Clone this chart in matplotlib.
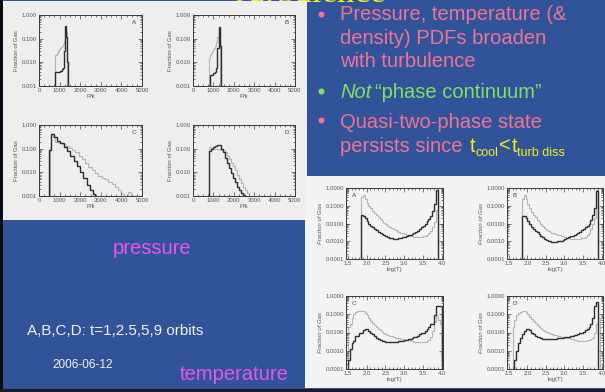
import numpy as np
import matplotlib
matplotlib.use("Agg")
import matplotlib.pyplot as plt
from matplotlib.patches import Rectangle
from matplotlib.ticker import MultipleLocator, LogLocator, NullFormatter

plt.rcParams['font.family'] = ['Liberation Sans', 'DejaVu Sans']

W, H = 605, 392

# ---------------- data: pressure PDFs (P/k) ----------------
p_ticks = [0, 1000, 2000, 3000, 4000, 5000]
p_tick_labels = ['0', '1000', '2000', '3000', '4000', '5000']
p_yticks = [1.0, 0.1, 0.01, 0.001]
p_ytick_labels = ['1.000', '0.100', '0.010', '0.001']

pA_dark_edges = [800, 900, 1000, 1100, 1150, 1200, 1250, 1300, 1350, 1400]
pA_dark = [0.004, 0.004, 0.0045, 0.005, 0.006, 0.03, 0.35, 0.12, 0.01]
pA_light_edges = [780, 850, 900, 950, 1000, 1050, 1100, 1150, 1200, 1250, 1300, 1350, 1380]
pA_light = [0.02, 0.025, 0.03, 0.035, 0.04, 0.045, 0.05, 0.06, 0.08, 0.15, 0.2, 0.03]

pB_dark_edges = [820, 900, 1000, 1100, 1150, 1200, 1250, 1300, 1350, 1380]
pB_dark = [0.003, 0.003, 0.0035, 0.004, 0.006, 0.04, 0.3, 0.05, 0.005]
pB_light_edges = [800, 850, 900, 950, 1000, 1050, 1100, 1150, 1200, 1250, 1300, 1340]
pB_light = [0.015, 0.02, 0.025, 0.03, 0.035, 0.04, 0.05, 0.07, 0.12, 0.25, 0.05]

pC_dark_edges = [480, 560, 640, 720, 880, 1040, 1200, 1360, 1520, 1680, 1840, 2000,
                 2160, 2320, 2480, 2640, 2720]
pC_dark = [0.09, 0.4, 0.4, 0.3, 0.22, 0.17, 0.12, 0.08, 0.05, 0.03, 0.018, 0.01,
           0.006, 0.003, 0.0018, 0.0012]
pC_light_edges = [540, 600, 700, 800, 960, 1120, 1280, 1440, 1600, 1760, 1920, 2080,
                  2240, 2400, 2560, 2720, 2880, 3040, 3200, 3360, 3520, 3680, 3840,
                  4000, 4120, 4300, 4450]
pC_light = [0.12, 0.4, 0.3, 0.2, 0.17, 0.15, 0.13, 0.11, 0.09, 0.07, 0.05, 0.035,
            0.025, 0.017, 0.012, 0.009, 0.007, 0.006, 0.005, 0.004, 0.0033, 0.0025,
            0.0018, 0.0012, 0.0, 0.0015]

pD_dark_edges = [780, 900, 1000, 1100, 1200, 1350, 1450, 1550, 1650, 1750, 1850, 1950,
                 2050, 2150, 2250, 2350, 2450, 2550]
pD_dark = [0.08, 0.1, 0.12, 0.13, 0.14, 0.1, 0.07, 0.04, 0.025, 0.015, 0.009, 0.006,
           0.004, 0.0025, 0.0018, 0.0013, 0.0011]
pD_light_edges = [800, 900, 1000, 1200, 1300, 1450, 1550, 1650, 1750, 1850, 1950, 2050,
                  2150, 2250, 2350, 2450, 2550, 2650, 2750]
pD_light = [0.12, 0.11, 0.1, 0.095, 0.09, 0.085, 0.07, 0.05, 0.035, 0.025, 0.018, 0.012,
            0.008, 0.005, 0.0035, 0.0025, 0.0018, 0.0013]

# ---------------- data: temperature PDFs (log T) ----------------
t_ticks = [1.5, 2.0, 2.5, 3.0, 3.5, 4.0]
t_tick_labels = ['1.5', '2.0', '2.5', '3.0', '3.5', '4.0']
t_yticks = [1.0, 0.1, 0.01, 0.001, 0.0001]
t_ytick_labels = ['1.0000', '0.1000', '0.0100', '0.0010', '0.0001']

t_edges = [1.50, 1.55, 1.60, 1.65, 1.70, 1.75, 1.80, 1.85, 1.90, 1.95,
           2.00, 2.05, 2.10, 2.15, 2.20, 2.25, 2.30, 2.35, 2.40, 2.45,
           2.50, 2.55, 2.60, 2.65, 2.70, 2.75, 2.80, 2.85, 2.90, 2.95,
           3.00, 3.05, 3.10, 3.15, 3.20, 3.25, 3.30, 3.35, 3.40, 3.45,
           3.50, 3.55, 3.60, 3.65, 3.70, 3.75, 3.80, 3.85, 3.90, 3.95, 4.00]

tA_dark = [0, 0, 0, 0, 0, 0, 0, 0.03, 0.028, 0.02,
           0.014, 0.01, 0.0075, 0.006, 0.005, 0.0042, 0.0035, 0.003, 0.0026, 0.0023,
           0.002, 0.0018, 0.0016, 0.0015, 0.0014, 0.0014, 0.0014, 0.0015, 0.0016, 0.0017,
           0.0018, 0.002, 0.0022, 0.0024, 0.0027, 0.003, 0.0034, 0.004, 0.0048, 0.006,
           0.0075, 0.01, 0.013, 0.018, 0.028, 0.05, 0.12, 0.8, 0, 0]
tA_light = [0, 0, 0, 0, 0, 0, 0, 0.3, 0.4, 0.25,
            0.15, 0.1, 0.07, 0.05, 0.038, 0.03, 0.023, 0.018, 0.014, 0.011,
            0.009, 0.0075, 0.0065, 0.0055, 0.0048, 0.0042, 0.0037, 0.0033, 0.003, 0.0028,
            0.0025, 0.0023, 0.0021, 0.002, 0.0019, 0.0018, 0.0018, 0.0018, 0.0018, 0.0018,
            0.0019, 0.002, 0.0023, 0.0028, 0.0038, 0.006, 0.012, 0.06, 0, 0]

tB_dark = [0, 0, 0, 0, 0, 0, 0, 0.028, 0.028, 0.02,
           0.013, 0.009, 0.0065, 0.005, 0.004, 0.0032, 0.0026, 0.0021, 0.0017, 0.0014,
           0.0012, 0.0011, 0.001, 0.00095, 0.00095, 0.00095, 0.001, 0.00105, 0.0011, 0.0012,
           0.0013, 0.0015, 0.0017, 0.0019, 0.0021, 0.0023, 0.0026, 0.003, 0.0035, 0.0042,
           0.005, 0.006, 0.0075, 0.01, 0.015, 0.03, 0.07, 0.7, 0, 0]
tB_light = [0, 0, 0, 0, 0, 0, 0, 0.25, 0.4, 0.25,
            0.12, 0.07, 0.045, 0.03, 0.022, 0.016, 0.012, 0.009, 0.007, 0.0055,
            0.0045, 0.0038, 0.0033, 0.003, 0.0028, 0.0026, 0.0024, 0.0022, 0.002, 0.0019,
            0.0018, 0.0016, 0.0015, 0.0014, 0.0014, 0.0014, 0.0014, 0.0014, 0.0014, 0.0015,
            0.0016, 0.0018, 0.0022, 0.003, 0.005, 0.01, 0.02, 0.8, 0, 0]

tC_dark = [0.0003, 0.0012, 0.0025, 0.0035, 0.0063, 0.0063, 0.0096, 0.0096, 0.013, 0.016,
           0.016, 0.012, 0.0095, 0.0078, 0.0062, 0.0052, 0.0045, 0.004, 0.0036, 0.0033,
           0.0031, 0.003, 0.003, 0.003, 0.003, 0.0031, 0.0032, 0.0033, 0.0034, 0.0035,
           0.0037, 0.0039, 0.0042, 0.0045, 0.005, 0.0055, 0.006, 0.0068, 0.008, 0.0096,
           0.0096, 0.012, 0.016, 0.02, 0.03, 0.03, 0.09, 0.3, 0.3, 0.3]
tC_light = [0.02, 0.03, 0.06, 0.1, 0.13, 0.15, 0.16, 0.16, 0.15, 0.12,
            0.09, 0.065, 0.045, 0.033, 0.025, 0.02, 0.016, 0.013, 0.011, 0.0095,
            0.0085, 0.0075, 0.0068, 0.0062, 0.0057, 0.0053, 0.005, 0.0047, 0.0045, 0.0043,
            0.0041, 0.0039, 0.0037, 0.0035, 0.0033, 0.0031, 0.003, 0.003, 0.003, 0.003,
            0.003, 0.0032, 0.0035, 0.004, 0.006, 0.012, 0.04, 0.08, 0.05, 0.03]

tD_dark = [0, 0, 0, 0.0003, 0.001, 0.0025, 0.005, 0.008, 0.012, 0.015,
           0.016, 0.013, 0.01, 0.008, 0.0068, 0.006, 0.0054, 0.005, 0.0046, 0.0044,
           0.0043, 0.0042, 0.0042, 0.0043, 0.0044, 0.0045, 0.0047, 0.0049, 0.005, 0.0052,
           0.0055, 0.0058, 0.006, 0.0063, 0.0067, 0.007, 0.0075, 0.008, 0.009, 0.01,
           0.011, 0.013, 0.016, 0.02, 0.03, 0.06, 0.3, 0.45, 0, 0]
tD_light = [0, 0, 0.02, 0.05, 0.09, 0.12, 0.14, 0.15, 0.15, 0.13,
            0.1, 0.075, 0.055, 0.042, 0.033, 0.026, 0.021, 0.017, 0.014, 0.012,
            0.011, 0.0098, 0.009, 0.0083, 0.0077, 0.0072, 0.0068, 0.0064, 0.006, 0.0057,
            0.0054, 0.0051, 0.0048, 0.0045, 0.0042, 0.004, 0.0038, 0.0036, 0.0035, 0.0035,
            0.0035, 0.0036, 0.0038, 0.004, 0.0045, 0.005, 0.01, 0.03, 0.06, 0]

panel_letters = ['A', 'B', 'C', 'D']

# ---------------- colours ----------------
BLUE = '#31539a'
PINK = '#ef7592'
GREEN = '#80e066'
YELLOW = '#f2ee22'
MAGENTA = '#e757e6'
WHITE = '#f2f2f2'
IMG_P = '#eeeeee'
IMG_T = '#f3f3f3'
DARK = '#2e2e2e'
LIGHT = '#b4b4b4'

fig = plt.figure(figsize=(W / 100, H / 100), dpi=100, facecolor=BLUE)


def fbox(x0, y0, x1, y1):
    return [x0 / W, 1 - y1 / H, (x1 - x0) / W, (y1 - y0) / H]


def rect(x0, y0, x1, y1, color, z=-1):
    fig.add_artist(Rectangle((x0 / W, 1 - y1 / H), (x1 - x0) / W, (y1 - y0) / H,
                             transform=fig.transFigure, facecolor=color,
                             edgecolor='none', zorder=z))


# title peeking at the top (mostly cut off, as on the slide)
fig.text(386 / W, 1 - 2.5 / H, 'Turbulence', color=YELLOW, fontsize=25,
         family='Liberation Serif', ha='right', va='baseline', zorder=-2)

# slide pieces
rect(3, 1, 307, 220, IMG_P)
rect(305, 176, 605, 388, IMG_T)
rect(0, 0, 3, 392, '#0a0a14')
rect(0, 388.5, 605, 392, '#1c1c26')


def style(ax, bg, italic_ylabel=False):
    ax.set_facecolor(bg)
    for s in ax.spines.values():
        s.set_color('#3a3a3a')
        s.set_linewidth(0.7)
    ax.tick_params(which='both', direction='in', top=True, right=True,
                   labelsize=4.3, labelcolor='#555555', color='#444444',
                   width=0.5, pad=1.5)
    ax.tick_params(which='major', length=3)
    ax.tick_params(which='minor', length=1.5)
    ax.set_yscale('log')
    ax.yaxis.set_minor_locator(LogLocator(base=10, subs=np.arange(2, 10)))
    ax.yaxis.set_minor_formatter(NullFormatter())
    ax.set_ylabel('Fraction of Gas', fontsize=4.3, color='#555555', labelpad=2,
                  style='italic' if italic_ylabel else 'normal')


# pressure panels
p_boxes = [(39, 15, 142, 86), (193, 15, 295, 86), (39, 125, 142, 196), (193, 125, 295, 196)]
p_series = [(pA_light_edges, pA_light, pA_dark_edges, pA_dark),
            (pB_light_edges, pB_light, pB_dark_edges, pB_dark),
            (pC_light_edges, pC_light, pC_dark_edges, pC_dark),
            (pD_light_edges, pD_light, pD_dark_edges, pD_dark)]
for bx, (le, lv, de, dv), letter in zip(p_boxes, p_series, panel_letters):
    ax = fig.add_axes(fbox(*bx))
    style(ax, IMG_P)
    ax.stairs(lv, le, color=LIGHT, lw=0.8, baseline=0)
    ax.stairs(dv, de, color=DARK, lw=1.0, baseline=0)
    ax.set_xlim(0, 5000)
    ax.set_ylim(0.001, 1.0)
    ax.set_xticks(p_ticks)
    ax.set_xticklabels(p_tick_labels)
    ax.xaxis.set_minor_locator(MultipleLocator(250))
    ax.set_yticks(p_yticks)
    ax.set_yticklabels(p_ytick_labels)
    ax.set_xlabel('P/k', fontsize=4.3, color='#555555', labelpad=1)
    ax.text(0.94, 0.9, letter, transform=ax.transAxes, fontsize=4.5,
            color='#444444', ha='right', va='center')

# temperature panels
t_boxes = [(346, 188, 443, 259), (507, 188, 603, 259), (346, 296, 443, 369), (507, 296, 603, 369)]
t_series = [(tA_light, tA_dark), (tB_light, tB_dark), (tC_light, tC_dark), (tD_light, tD_dark)]
for bx, (lv, dv), letter in zip(t_boxes, t_series, panel_letters):
    ax = fig.add_axes(fbox(*bx))
    style(ax, IMG_T, italic_ylabel=True)
    ax.stairs(lv, t_edges, color=LIGHT, lw=0.8, baseline=0)
    ax.stairs(dv, t_edges, color=DARK, lw=1.0, baseline=0)
    ax.set_xlim(1.45, 4.04)
    ax.set_ylim(0.0001, 1.0)
    ax.set_xticks(t_ticks)
    ax.set_xticklabels(t_tick_labels)
    ax.xaxis.set_minor_locator(MultipleLocator(0.1))
    ax.set_yticks(t_yticks)
    ax.set_yticklabels(t_ytick_labels)
    ax.set_xlabel('log(T)', fontsize=4.3, color='#555555', labelpad=1)
    ax.text(0.06, 0.9, letter, transform=ax.transAxes, fontsize=4.5,
            color='#444444', ha='left', va='center')

# overlay for slide text (pixel coordinates)
ov = fig.add_axes([0, 0, 1, 1], zorder=10)
ov.set_xlim(0, W)
ov.set_ylim(H, 0)
ov.axis('off')
ov.patch.set_alpha(0)
renderer = fig.canvas.get_renderer()

FS = 14.5


def run(x, y, segs):
    for s, fs, col, st, dy, gap in segs:
        t = ov.text(x + gap, y + dy, s, fontsize=fs, color=col, style=st,
                    ha='left', va='baseline')
        bb = t.get_window_extent(renderer=renderer)
        x = bb.x1


# bullets
ov.plot([321, 321], [13.5, 120], 'o', ms=4.3, color=PINK, mec='none')
ov.plot([321], [91], 'o', ms=4.3, color=GREEN, mec='none')
ov.text(340, 19.5, 'Pressure, temperature (&', fontsize=FS, color=PINK, va='baseline')
ov.text(340, 43.5, 'density) PDFs broaden', fontsize=FS, color=PINK, va='baseline')
ov.text(340, 67, 'with turbulence', fontsize=FS, color=PINK, va='baseline')
run(340, 97.5, [('Not', FS, GREEN, 'italic', 0, 0),
                ('\u201cphase continuum\u201d', FS, GREEN, 'normal', 0, 4)])
ov.text(340, 127.5, 'Quasi-two-phase state', fontsize=FS, color=PINK, va='baseline')
run(340, 152, [('persists since', FS, PINK, 'normal', 0, 0),
               ('t', FS, YELLOW, 'normal', 0, 7),
               ('cool', 9, YELLOW, 'normal', 4, 0.5),
               ('<', FS, YELLOW, 'normal', 0, 0.5),
               ('t', FS, YELLOW, 'normal', 0, 0.5),
               ('turb diss', 9, YELLOW, 'normal', 4, 0.5)])

# lower-left captions
ov.text(152, 253.5, 'pressure', fontsize=FS, color=MAGENTA, ha='center', va='baseline')
ov.text(27, 335, 'A,B,C,D: t=1,2.5,5,9 orbits', fontsize=11, color=WHITE, va='baseline')
ov.text(52, 368, '2006-06-12', fontsize=8.5, color=WHITE, va='baseline')
ov.text(180, 380, 'temperature', fontsize=FS, color=MAGENTA, va='baseline')

fig.savefig('out.png', dpi=100, facecolor=BLUE)
